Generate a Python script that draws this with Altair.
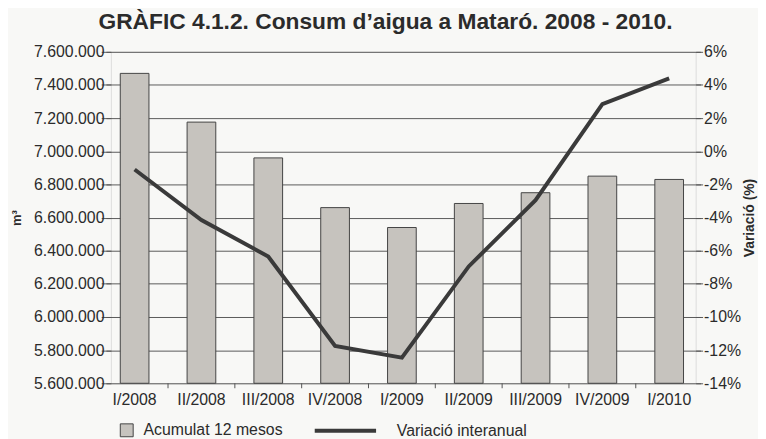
import altair as alt
import pandas as pd

# ---- data ----
quarters = ["I/2008", "II/2008", "III/2008", "IV/2008", "I/2009",
            "II/2009", "III/2009", "IV/2009", "I/2010"]
acumulat = [7470000, 7176000, 6960000, 6660000, 6540000,
            6685000, 6750000, 6850000, 6830000]
variacio = [-1.1, -4.15, -6.35, -11.75, -12.45, -6.95, -2.95, 2.85, 4.4]
bar_label = "Acumulat 12 mesos"
line_label = "Variació interanual"
left_ticks = list(range(5600000, 7600001, 200000))
right_ticks = list(range(-14, 7, 2))
y_min = 5600000

df = pd.DataFrame({
    "trimestre": quarters,
    "acumulat": acumulat,
    "variacio": variacio,
    "sb": [bar_label] * len(quarters),
    "sl": [line_label] * len(quarters),
})

FONT = "Liberation Sans"
TEXT = "#2b2b2b"
AXC = "#555555"
W, H = 591, 335

xscale = alt.Scale(domain=quarters, range=[-9.8, 598.0], paddingInner=0, paddingOuter=0)

base = alt.Chart(df)

bars = base.mark_bar(size=29, stroke="#444444", strokeWidth=1).encode(
    x=alt.X("trimestre:N", sort=quarters, scale=xscale,
            axis=alt.Axis(title=None, ticks=False, domain=False, grid=False,
                          labelAngle=0, labelPadding=8, labelFontSize=16,
                          labelColor=TEXT, labelFont=FONT)),
    y=alt.Y("acumulat:Q",
            scale=alt.Scale(domain=[5600000, 7600000], nice=False, zero=False),
            axis=alt.Axis(title="m³", values=left_ticks, format=",d",
                          grid=True, gridColor="#5a5a5a", gridWidth=1,
                          domain=False, tickSize=5, tickColor=AXC,
                          labelPadding=2, labelFontSize=16, labelColor=TEXT,
                          labelFont=FONT, titleFont=FONT, titleFontSize=13,
                          titleFontWeight="bold", titleColor=TEXT,
                          titleAngle=270, titleBaseline="alphabetic",
                          titleX=-91, titleY=H / 2, titleAlign="center")),
    y2=alt.datum(y_min),
    fill=alt.Fill("sb:N", scale=alt.Scale(range=["#c6c3be"]),
                  legend=alt.Legend(title=None, orient="none", legendX=8, legendY=374.5,
                                    symbolType="square", symbolSize=170,
                                    symbolStrokeColor="#444444", symbolStrokeWidth=1,
                                    labelFontSize=16, labelFont=FONT, labelColor=TEXT,
                                    labelOffset=9, padding=0)),
)

ticks = base.transform_filter(alt.datum.trimestre != quarters[0]).mark_rule(
    color=AXC, strokeWidth=1
).encode(
    x=alt.X("trimestre:N", sort=quarters, scale=xscale, bandPosition=0),
    y=alt.value(H),
    y2=alt.value(H + 5),
)

line = base.mark_line(strokeWidth=4, strokeCap="butt", strokeJoin="miter").encode(
    x=alt.X("trimestre:N", sort=quarters, scale=xscale),
    y=alt.Y("variacio:Q", scale=alt.Scale(domain=[-14, 6], nice=False),
            axis=alt.Axis(orient="right", title="Variació (%)", values=right_ticks,
                          labelExpr="datum.value + '%'", grid=False, domain=False,
                          tickSize=5, tickColor=AXC, labelPadding=3,
                          labelFontSize=16, labelColor=TEXT, labelFont=FONT,
                          titleFont=FONT, titleFontSize=14, titleFontWeight="bold",
                          titleColor=TEXT, titleAngle=270, titleBaseline="middle",
                          titleX=54, titleY=H / 2, titleAlign="center")),
    stroke=alt.Stroke("sl:N", scale=alt.Scale(range=["#3a3a3a"]),
                      legend=alt.Legend(title=None, orient="none", legendX=225, legendY=371,
                                        symbolType="M-3.1,0L3.1,0", symbolSize=400,
                                        symbolStrokeWidth=4,
                                        labelFontSize=16, labelFont=FONT, labelColor=TEXT,
                                        labelOffset=40, padding=0)),
)

chart = alt.layer(bars, ticks, line).resolve_scale(
    y="independent", fill="independent", stroke="independent"
).properties(
    width=W, height=H,
    autosize=alt.AutoSizeParams(type="none"),
    padding={"left": 104, "top": 42, "right": 63, "bottom": 54},
    background="#f8f8f6",
    title=alt.TitleParams("GRÀFIC 4.1.2. Consum d’aigua a Mataró. 2008 - 2010.",
                          font=FONT, fontSize=23, fontWeight="bold", color=TEXT,
                          anchor="middle", dx=-18, offset=10),
).configure_view(
    stroke="#555555", strokeWidth=1, fill="#ffffff"
).configure(
    locale={"number": {"decimal": ",", "thousands": ".", "grouping": [3],
                       "currency": ["", " €"]}}
)

chart.save("out.html", embed_options={"renderer": "svg", "actions": False})
